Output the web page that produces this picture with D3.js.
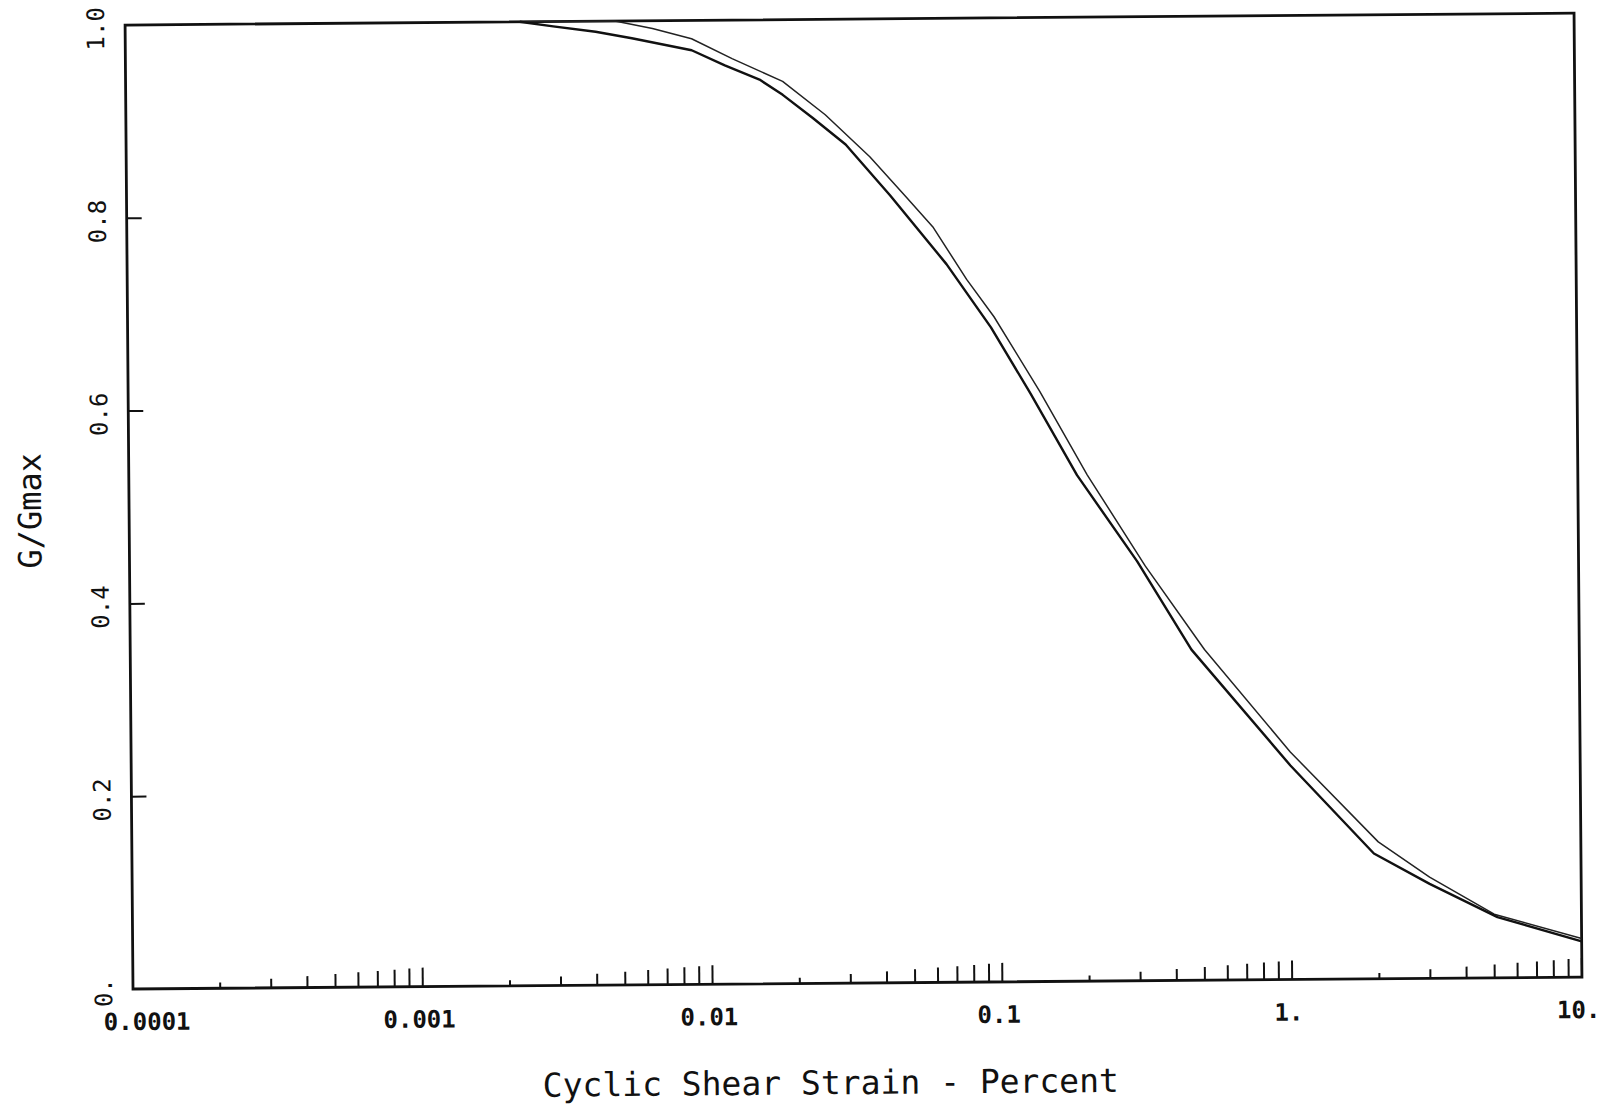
<!DOCTYPE html>
<html>
<head>
<meta charset="utf-8">
<script src="https://cdn.jsdelivr.net/npm/d3@7"></script>
<style>
  html, body { margin: 0; padding: 0; background: #fff; }
  svg { display: block; }
  text { font-family: "DejaVu Sans Mono", "Liberation Mono", monospace; fill: #111; }
</style>
</head>
<body>
<svg id="chart" width="1610" height="1113"></svg>
<script>
// Modulus reduction curves: G/Gmax against cyclic shear strain (percent)
const strainLower = [0.0023, 0.003, 0.0042, 0.0056, 0.009, 0.0117, 0.0154, 0.0185, 0.0234, 0.0304, 0.0431, 0.0672, 0.0953, 0.13, 0.187, 0.3, 0.459, 1.0, 1.93, 3.0, 5.13, 10];
const ratioLower  = [1.0, 0.995, 0.989, 0.982, 0.969, 0.953, 0.938, 0.922, 0.898, 0.870, 0.817, 0.745, 0.679, 0.61, 0.525, 0.435, 0.343, 0.222, 0.130, 0.098, 0.063, 0.037];

const strainUpper = [0.0023, 0.0049, 0.0066, 0.009, 0.0124, 0.0185, 0.0259, 0.0368, 0.049, 0.0607, 0.0788, 0.0977, 0.14, 0.203, 0.32, 0.509, 1.0, 2.0, 3.0, 5.0, 10];
const ratioUpper  = [1.0, 1.0, 0.992, 0.981, 0.960, 0.936, 0.901, 0.857, 0.815, 0.783, 0.729, 0.690, 0.612, 0.525, 0.43, 0.343, 0.236, 0.142, 0.105, 0.066, 0.040];

const xTickValues = [0.0001, 0.001, 0.01, 0.1, 1, 10];
const xTickLabels = ["0.0001", "0.001", "0.01", "0.1", "1.", "10."];
const yTickValues = [0, 0.2, 0.4, 0.6, 0.8, 1.0];
const yTickLabels = ["0.", "0.2", "0.4", "0.6", "0.8", "1.0"];
const xTitle = "Cyclic Shear Strain - Percent";
const yTitle = "G/Gmax";

// Plot frame
const frame = { left: 133, right: 1582, top: 25, bottom: 989 };
const x = d3.scaleLog().domain([0.0001, 10]).range([frame.left, frame.right]);
const y = d3.scaleLinear().domain([0, 1]).range([frame.bottom, frame.top]);

const svg = d3.select("#chart");
// the whole sheet sits slightly askew
const g = svg.append("g")
  .attr("transform", `rotate(-0.47 ${frame.left} ${frame.bottom})`);

// x labels (decades)
const xAxis = d3.axisBottom(x)
  .tickValues(xTickValues)
  .tickFormat((d, i) => xTickLabels[i])
  .tickSize(0);
const gx = g.append("g")
  .attr("transform", `translate(0,${frame.bottom})`)
  .call(xAxis);
gx.select(".domain").remove();
gx.selectAll("text")
  .attr("y", 41).attr("dy", 0)
  .attr("x", (d, i) => i === 0 ? -30 : -4)
  .attr("text-anchor", (d, i) => i === 0 ? "start" : "middle")
  .style("font-size", "24px")
  .style("font-weight", "bold")
  .style("font-family", "'DejaVu Sans Mono', monospace")
  .attr("fill", "#111");

// minor log ticks pointing up into the plot, growing with the multiplier
const minor = [];
for (let e = -4; e <= 0; e++) {
  for (let k = 2; k <= 10; k++) minor.push({ v: k * Math.pow(10, e), k });
}
g.append("g").selectAll("line").data(minor).join("line")
  .attr("x1", d => x(d.v)).attr("x2", d => x(d.v))
  .attr("y1", frame.bottom)
  .attr("y2", d => frame.bottom - 19 * Math.log10(d.k))
  .attr("stroke", "#111").attr("stroke-width", 2);

// y labels, rotated, with short inward ticks
const yAxis = d3.axisRight(y)
  .tickValues(yTickValues)
  .tickFormat((d, i) => yTickLabels[i])
  .tickSize(15);
const gy = g.append("g")
  .attr("transform", `translate(${frame.left},0)`)
  .call(yAxis);
gy.select(".domain").remove();
gy.selectAll(".tick line")
  .attr("stroke", "#111").attr("stroke-width", 2)
  .attr("display", d => (d === 0 || d === 1) ? "none" : null);
gy.selectAll(".tick text")
  .attr("transform", "rotate(-90)")
  .attr("x", -3).attr("y", -21).attr("dy", 0)
  .attr("text-anchor", "middle")
  .style("font-size", "24px")
  .style("font-family", "'DejaVu Sans Mono', monospace")
  .attr("fill", "#111");

// frame
g.append("rect")
  .attr("x", frame.left).attr("y", frame.top)
  .attr("width", frame.right - frame.left)
  .attr("height", frame.bottom - frame.top)
  .attr("fill", "none").attr("stroke", "#111").attr("stroke-width", 2.8);

// curves
const line = d3.line().x(d => x(d[0])).y(d => y(d[1]));
g.append("path")
  .datum(d3.zip(strainUpper, ratioUpper))
  .attr("d", line)
  .attr("fill", "none").attr("stroke", "#222").attr("stroke-width", 1.5)
  .attr("stroke-linejoin", "round");
g.append("path")
  .datum(d3.zip(strainLower, ratioLower))
  .attr("d", line)
  .attr("fill", "none").attr("stroke", "#111").attr("stroke-width", 2.4)
  .attr("stroke-linejoin", "round");

// titles
g.append("text")
  .attr("x", 830).attr("y", 1100)
  .attr("text-anchor", "middle")
  .style("font-size", "33px")
  .text(xTitle);
g.append("text")
  .attr("transform", "translate(45,510) rotate(-90)")
  .attr("text-anchor", "middle")
  .style("font-size", "32px")
  .text(yTitle);
</script>
</body>
</html>
